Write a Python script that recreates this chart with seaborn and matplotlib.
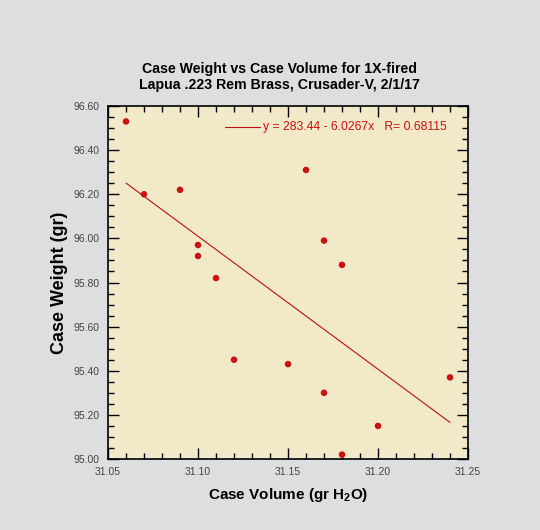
import numpy as np
import pandas as pd
import matplotlib
matplotlib.use("Agg")
import matplotlib.pyplot as plt
import seaborn as sns
from matplotlib.ticker import MultipleLocator, FormatStrFormatter

case_volume = [31.06, 31.07, 31.09, 31.10, 31.10, 31.11, 31.12, 31.15,
               31.16, 31.17, 31.17, 31.18, 31.18, 31.20, 31.24]
case_weight = [96.53, 96.20, 96.22, 95.97, 95.92, 95.82, 95.45, 95.43,
               96.31, 95.99, 95.30, 95.88, 95.02, 95.15, 95.37]
fit_intercept = 283.44
fit_slope = -6.0267
fit_r = 0.68115
title_lines = ["Case Weight vs Case Volume for 1X-fired",
               "Lapua .223 Rem Brass, Crusader-V, 2/1/17"]

df = pd.DataFrame({"vol": case_volume, "wt": case_weight})

sns.set_style("ticks")
plt.rcParams['font.family'] = ['Liberation Sans', 'DejaVu Sans']
plt.rcParams['text.color'] = 'black'
plt.rcParams['axes.labelcolor'] = 'black'

fig = plt.figure(figsize=(5.4, 5.3), dpi=100)
fig.patch.set_facecolor("#dcdedf")
ax = fig.add_axes([108/540, 1 - 459/530, (468-108)/540, (459-106)/530])
ax.set_facecolor("#f2e9c9")

red = "#cc1111"
sns.scatterplot(data=df, x="vol", y="wt", ax=ax, color=red, s=22,
                edgecolor="none", zorder=3)

xl = np.array([min(case_volume), max(case_volume)])
sns.lineplot(x=xl, y=fit_intercept + fit_slope * xl, ax=ax, color="#bb1111",
             linewidth=0.8, zorder=2)

ax.set_xlim(31.05, 31.25)
ax.set_ylim(95.0, 96.6)
ax.xaxis.set_major_locator(MultipleLocator(0.05))
ax.xaxis.set_minor_locator(MultipleLocator(0.01))
ax.yaxis.set_major_locator(MultipleLocator(0.2))
ax.yaxis.set_minor_locator(MultipleLocator(0.05))
ax.xaxis.set_major_formatter(FormatStrFormatter("%.2f"))
ax.yaxis.set_major_formatter(FormatStrFormatter("%.2f"))
ax.tick_params(which="both", direction="in", top=True, right=True,
               colors="black", labelcolor="#444444", labelsize=7.5, width=1)
ax.tick_params(which="major", length=8, pad=6)
ax.tick_params(which="minor", length=4)
for s in ax.spines.values():
    s.set_linewidth(1.2)
    s.set_color("black")

ax.set_xlabel("Case Volume (gr H$_\\mathregular{2}$O)", fontsize=11,
              fontweight="bold", labelpad=6)
ax.set_ylabel("Case Weight (gr)", fontsize=13, fontweight="bold", labelpad=4)
fig.text(279/540, 1 - 77/530, "\n".join(title_lines), ha="center", va="center",
         fontsize=10.2, fontweight="bold", linespacing=1.25)

# legend-style annotation
ax.plot([31.115, 31.1344], [96.505, 96.505], color="#bb1111", linewidth=0.8)
ax.text(31.136, 96.505, f"y = {fit_intercept} - {abs(fit_slope)}x   R= {fit_r}",
        color=red, fontsize=8.7, va="center", ha="left")

fig.savefig("out.png", dpi=100, facecolor=fig.get_facecolor())
